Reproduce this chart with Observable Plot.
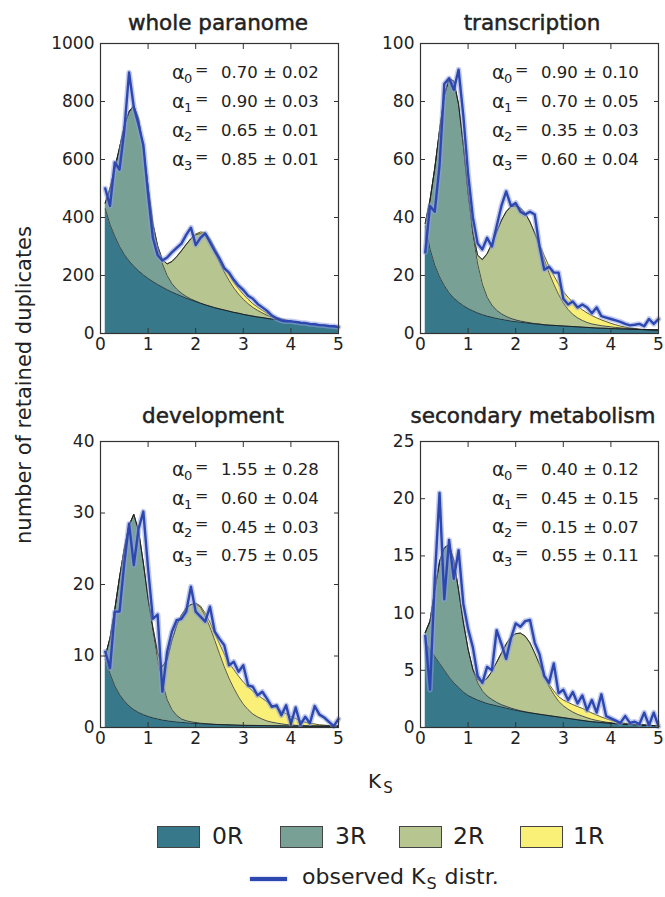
<!DOCTYPE html>
<html><head><meta charset="utf-8">
<script src="https://cdn.jsdelivr.net/npm/d3@7"></script>
<script src="https://cdn.jsdelivr.net/npm/@observablehq/plot@0.6"></script>
<style>
body{margin:0;background:#fff;}
#fig{position:relative;width:665px;height:897px;font-family:"DejaVu Sans",sans-serif;color:#222;overflow:hidden;background:#fff;}
#fig svg{position:absolute;}
.title{position:absolute;width:300px;text-align:center;font-size:21.5px;line-height:21.5px;white-space:nowrap;color:#222;-webkit-text-stroke:0.5px #222;}
.ylab{position:absolute;left:24px;top:385px;transform:translate(-50%,-50%) rotate(-90deg);white-space:nowrap;font-size:21px;}
.xlab{position:absolute;font-size:20px;line-height:20px;white-space:nowrap;}
.sw{position:absolute;width:41px;height:20px;border:1px solid #444;}
.lg{position:absolute;font-size:23.5px;line-height:23.5px;white-space:nowrap;}
</style></head><body><div id="fig"></div>
<script>
// ---------- data ----------
const ks = [0.1,0.2,0.3,0.4,0.5,0.6,0.7,0.8,0.9,1.0,1.1,1.2,1.3,1.4,1.5,1.6,1.7,1.8,1.9,2.0,2.1,2.2,2.3,2.4,2.5,2.6,2.7,2.8,2.9,3.0,3.1,3.2,3.3,3.4,3.5,3.6,3.7,3.8,3.9,4.0,4.1,4.2,4.3,4.4,4.5,4.6,4.7,4.8,4.9,5.0];
const xTicks = [0,1,2,3,4,5];
const compNames = ["0R","3R","2R","1R"];
const compColors = ["#37788a","#78a094","#b7c691","#faf078"];
const panelTitles = ["whole paranome","transcription","development","secondary metabolism"];
const yMax = [1000,100,40,25];
const yTicks1 = [0,200,400,600,800,1000];
const yTicks2 = [0,20,40,60,80,100];
const yTicks3 = [0,10,20,30,40];
const yTicks4 = [0,5,10,15,20,25];
const alphas1 = ["0.70 ± 0.02","0.90 ± 0.03","0.65 ± 0.01","0.85 ± 0.01"];
const alphas2 = ["0.90 ± 0.10","0.70 ± 0.05","0.35 ± 0.03","0.60 ± 0.04"];
const alphas3 = ["1.55 ± 0.28","0.60 ± 0.04","0.45 ± 0.03","0.75 ± 0.05"];
const alphas4 = ["0.40 ± 0.12","0.45 ± 0.15","0.15 ± 0.07","0.55 ± 0.11"];

// whole paranome
const obs1 = [500,440,590,565,700,900,780,720,650,480,330,270,252,262,280,295,310,340,365,305,330,345,315,285,258,225,210,185,165,150,130,120,102,90,78,62,52,45,42,42,40,37,36,33,32,29,28,26,25,22];
const r0_1 = [430,375,335,300,272,250,232,216,202,190,179,169,160,151,143,136,129,122,116,110,104,99,94,89,85,81,77,73,70,66,63,60,57,55,52,50,48,46,44,42,40,38,36,34,32,30,28,27,25,24];
const r3_1 = [20,125,235,340,443,515,553,524,438,315,196,126,80,49,29,17,10,6,3,2,1,0,0,0,0,0,0,0,0,0,0,0,0,0,0,0,0,0,0,0,0,0,0,0,0,0,0,0,0,0];
const r2_1 = [0,0,0,0,0,0,0,0,0,2,5,8,15,40,76,112,146,179,208,228,240,241,221,191,160,131,106,84,66,52,40,30,23,16,11,7,4,2,1,0,0,0,0,0,0,0,0,0,0,0];
const r1_1 = [0,0,0,0,0,0,0,0,0,0,0,0,0,0,0,0,0,0,0,3,5,8,12,16,19,20,21,20,19,17,15,13,11,9,7,5,4,3,2,1,0,0,0,0,0,0,0,0,0,0];

// transcription
const obs2 = [28,44,42,58,86,88,84,91,75,55,40,31,29,33,30,37,44,49,44,45,42,41,42,41,30,22,23,21,21,12,10,11,9,10,9,7,9,6,5.5,5,4.5,4,3.3,2.8,3,3.3,2.5,5,3.3,5];
const r0_2 = [37,29,23.5,19.5,16.5,14,12.2,10.8,9.6,8.6,7.8,7.1,6.5,6,5.6,5.2,4.9,4.6,4.3,4.1,3.9,3.7,3.5,3.3,3.2,3,2.9,2.8,2.7,2.6,2.5,2.4,2.3,2.2,2.1,2,1.9,1.85,1.8,1.7,1.65,1.6,1.55,1.5,1.45,1.4,1.35,1.3,1.25,1.2];
const r3_2 = [1,17,33.5,50.5,65.5,74,74.8,68.2,55.4,39.4,26.2,16.9,10.5,6.5,4.2,2.8,1.9,1.3,0.9,0.6,0.4,0.3,0.2,0.15,0.1,0,0,0,0,0,0,0,0,0,0,0,0,0,0,0,0,0,0,0,0,0,0,0,0,0];
const r2_2 = [0,0,0,0,0,0,0,0,0,0.5,1,3,8.5,15,21.2,27,32.2,36.1,38.6,39.3,39,37.5,34.8,31,26.7,22.4,18,14.2,10.8,7.9,5.8,4.2,3.1,2.3,1.7,1.3,1.1,0.85,0.7,0.6,0.45,0.35,0.25,0.2,0.1,0,0,0,0,0];
const r1_2 = [0,0,0,0,0,0,0,0,0,0,0,0,0,0,0,0,0,0,0,0,0,0,0,0.3,0.8,1.5,2.3,3,3.6,4,4.2,4.2,4,3.7,3.3,2.9,2.4,2,1.6,1.2,0.9,0.6,0.4,0.25,0.15,0.1,0,0,0,0];

// development
const obs3 = [10.6,8.3,16.2,16.2,23,28.5,22.7,27.8,30.2,22.2,15.2,15.8,5,10.6,13.4,15,15.2,16.2,19.7,16.2,15.5,14.8,16.9,13.4,12.4,11.5,8.7,9.2,7.8,8.7,5.9,5.7,4.5,5,4,2.9,3.1,1.7,3.1,0.5,2.8,0.4,1.5,0.6,3,1.8,1.4,0.8,0.2,1.2];
const r0_3 = [9.5,7.5,5.8,4.6,3.7,3,2.5,2.1,1.8,1.55,1.35,1.2,1.05,0.95,0.85,0.78,0.72,0.66,0.61,0.57,0.53,0.5,0.47,0.44,0.41,0.39,0.37,0.35,0.33,0.31,0.3,0.29,0.28,0.27,0.26,0.25,0.24,0.23,0.22,0.21,0.21,0.2,0.2,0.19,0.19,0.18,0.18,0.17,0.17,0.16];
const r3_3 = [0.5,5,10.7,16.4,21.3,25.3,27.3,25.4,21.2,16.45,12.15,8.3,5.15,2.95,1.65,0.92,0.48,0.29,0.19,0.13,0.08,0.05,0.03,0,0,0,0,0,0,0,0,0,0,0,0,0,0,0,0,0,0,0,0,0,0,0,0,0,0,0];
const r2_3 = [0,0,0,0,0,0,0,0,0,0,0.5,1,2.3,5.6,9.7,12.6,14.5,15.75,16.4,16.6,16.2,15.05,13.5,11.75,9.9,8.1,6.5,5.15,3.95,2.95,2.2,1.6,1.2,0.9,0.65,0.5,0.38,0.28,0.2,0.15,0.1,0.05,0.05,0.05,0.05,0.05,0.05,0.05,0.05,0.05];
const r1_3 = [0,0,0,0,0,0,0,0,0,0,0,0,0,0,0,0,0,0,0,0.1,0.2,0.4,0.7,1,1.4,1.8,2.2,2.6,2.9,3.1,3.2,3.2,3.1,2.9,2.7,2.4,2.1,1.8,1.5,1.2,0.95,0.7,0.5,0.35,0.25,0.15,0.1,0.05,0.05,0.05];

// secondary metabolism
const obs4 = [8,3.3,13,20.5,11.2,16.4,13,15.5,10.8,8.6,7,4.5,3.9,5.3,5,8.5,7.3,6,7.8,9.1,8.8,9.3,9.4,7.4,6.4,4.5,3.9,5.6,3,3.3,2.4,3.1,2.1,2.8,1.5,2.4,1.3,2.9,1,0.8,0.6,0.4,1,0.4,0.5,0.3,1.3,0.2,1.3,0.1];
const r0_4 = [7.4,6.8,6.2,5.6,5,4.4,3.9,3.5,3.1,2.8,2.6,2.4,2.25,2.1,2,1.9,1.8,1.7,1.6,1.5,1.42,1.35,1.28,1.22,1.16,1.1,1.04,0.98,0.92,0.86,0.8,0.74,0.68,0.62,0.56,0.51,0.47,0.43,0.4,0.37,0.34,0.31,0.29,0.27,0.25,0.23,0.21,0.19,0.17,0.15];
const r3_4 = [0.9,2.5,5.8,8.9,10.7,11.6,10.7,8.5,6.1,4,2.4,1.5,0.95,0.65,0.45,0.3,0.2,0.15,0.1,0.08,0.05,0.03,0.02,0.01,0,0,0,0,0,0,0,0,0,0,0,0,0,0,0,0,0,0,0,0,0,0,0,0,0,0];
const r2_4 = [0,0,0,0,0,0,0,0,0,0.05,0.1,0.3,0.8,1.55,2.45,3.5,4.5,5.45,6.2,6.62,6.78,6.6,6.1,5.27,4.33,3.4,2.56,1.92,1.38,1.04,0.8,0.61,0.47,0.38,0.29,0.21,0.15,0.11,0.07,0.05,0,0,0,0,0,0,0,0,0,0];
const r1_4 = [0,0,0,0,0,0,0,0,0,0,0,0,0,0,0,0,0,0,0,0,0,0,0,0,0.05,0.12,0.2,0.3,0.4,0.5,0.6,0.65,0.68,0.67,0.62,0.55,0.47,0.38,0.3,0.23,0.17,0.12,0.08,0.05,0.03,0,0,0,0,0];

// ---------- layout ----------
const panels = [
  {title: panelTitles[0], ymax: yMax[0], yTicks: yTicks1, alphas: alphas1, obs: obs1, comps: [r0_1, r3_1, r2_1, r1_1], left: 0,   top: 0,   mt: 43, mb: 27, tc: 218, tb: 30},
  {title: panelTitles[1], ymax: yMax[1], yTicks: yTicks2, alphas: alphas2, obs: obs2, comps: [r0_2, r3_2, r2_2, r1_2], left: 320, top: 0,   mt: 43, mb: 27, tc: 532, tb: 30},
  {title: panelTitles[2], ymax: yMax[2], yTicks: yTicks3, alphas: alphas3, obs: obs3, comps: [r0_3, r3_3, r2_3, r1_3], left: 0,   top: 400, mt: 41, mb: 33, tc: 213, tb: 423},
  {title: panelTitles[3], ymax: yMax[3], yTicks: yTicks4, alphas: alphas4, obs: obs4, comps: [r0_4, r3_4, r2_4, r1_4], left: 320, top: 400, mt: 41, mb: 33, tc: 533, tb: 423}
];

const fig = document.getElementById("fig");
const fmt = d => String(d);

function drawPanel(p) {
  const rows = [];
  compNames.forEach((c, j) => p.comps[j].forEach((v, i) => rows.push({ks: ks[i], v, comp: c})));
  const obs = p.obs.map((v, i) => ({ks: ks[i], v}));
  const ann = p.alphas.map((t, i) => ({i, t, xa: 1.5, y: p.ymax * (0.9 - 0.1 * i)}));
  const svg = Plot.plot({
    width: 345, height: 360,
    marginLeft: 100, marginRight: 7, marginTop: p.mt, marginBottom: p.mb,
    x: {domain: [0, 5]},
    y: {domain: [0, p.ymax]},
    color: {type: "ordinal", domain: compNames, range: compColors},
    style: {fontFamily: "DejaVu Sans", fontSize: "17px", background: "none", color: "#222", overflow: "visible"},
    marks: [
      Plot.areaY(rows, {x: "ks", y: "v", z: "comp", fill: "comp", order: compNames}),
      Plot.lineY(rows, Plot.stackY2({x: "ks", y: "v", z: "comp", order: compNames, stroke: "#1a1a1a", strokeWidth: 0.7})),
      Plot.lineY(obs, {x: "ks", y: "v", stroke: "#8f9fe0", strokeWidth: 5.5, strokeOpacity: 0.55}),
      Plot.lineY(obs, {x: "ks", y: "v", stroke: "#2c48b0", strokeWidth: 2.4}),
      Plot.text(ann, {x: "xa", y: "y", text: () => "α", textAnchor: "start", fontSize: 19}),
      Plot.text(ann, {x: "xa", y: "y", text: d => String(d.i), textAnchor: "start", dx: 12, dy: 6, fontSize: 13}),
      Plot.text(ann, {x: "xa", y: "y", text: () => "=", textAnchor: "start", dx: 23, dy: -3, fontSize: 16}),
      Plot.text(ann, {x: "xa", y: "y", text: "t", textAnchor: "start", dx: 49, fontSize: 16.5}),
      Plot.frame({stroke: "#333", strokeWidth: 1.2}),
      Plot.axisX({ticks: xTicks, tickSize: 0, tickPadding: 4, label: null, tickFormat: fmt}),
      Plot.axisX({ticks: xTicks, tickSize: -5, fill: "none", stroke: "#333", label: null, anchor: "bottom"}),
      Plot.axisX({ticks: xTicks, tickSize: -5, fill: "none", stroke: "#333", label: null, anchor: "top"}),
      Plot.axisY({ticks: p.yTicks, tickSize: 0, tickPadding: 6, label: null, tickFormat: fmt}),
      Plot.axisY({ticks: p.yTicks, tickSize: -5, fill: "none", stroke: "#333", label: null, anchor: "left"}),
      Plot.axisY({ticks: p.yTicks, tickSize: -5, fill: "none", stroke: "#333", label: null, anchor: "right"})
    ]
  });
  svg.style.left = p.left + "px";
  svg.style.top = p.top + "px";
  fig.appendChild(svg);
  const t = document.createElement("div");
  t.className = "title";
  t.textContent = p.title;
  t.style.left = (p.tc - 150) + "px";
  t.style.top = (p.tb - 18.2) + "px";
  fig.appendChild(t);
}
panels.forEach(drawPanel);

// axis titles
const yl = document.createElement("div");
yl.className = "ylab"; yl.textContent = "number of retained duplicates";
fig.appendChild(yl);
const xl = document.createElement("div");
xl.className = "xlab";
xl.innerHTML = 'K<span style="font-size:15px;position:relative;top:5px;margin-left:2px">S</span>';
xl.style.left = "368px"; xl.style.top = "771px";
fig.appendChild(xl);

// legend
const swX = [157, 280, 399, 520];
const lgX = [212, 335, 453, 573];
compNames.forEach((c, i) => {
  const s = document.createElement("div");
  s.className = "sw"; s.style.left = swX[i] + "px"; s.style.top = "826px";
  s.style.background = compColors[i];
  fig.appendChild(s);
  const l = document.createElement("div");
  l.className = "lg"; l.textContent = c;
  l.style.left = lgX[i] + "px"; l.style.top = "825px";
  fig.appendChild(l);
});
const ol = document.createElement("div");
ol.style.cssText = "position:absolute;left:250px;top:877px;width:37px;height:4px;background:#2c48b0;box-shadow:0 0 2px #8f9fe0;";
fig.appendChild(ol);
const ot = document.createElement("div");
ot.className = "lg";
ot.style.left = "302px"; ot.style.top = "866px"; ot.style.fontSize = "22px"; ot.style.lineHeight = "22px";
ot.innerHTML = 'observed K<span style="font-size:16px;position:relative;top:5px;margin:0 1px">S</span> distr.';
fig.appendChild(ot);
</script>
</body></html>
